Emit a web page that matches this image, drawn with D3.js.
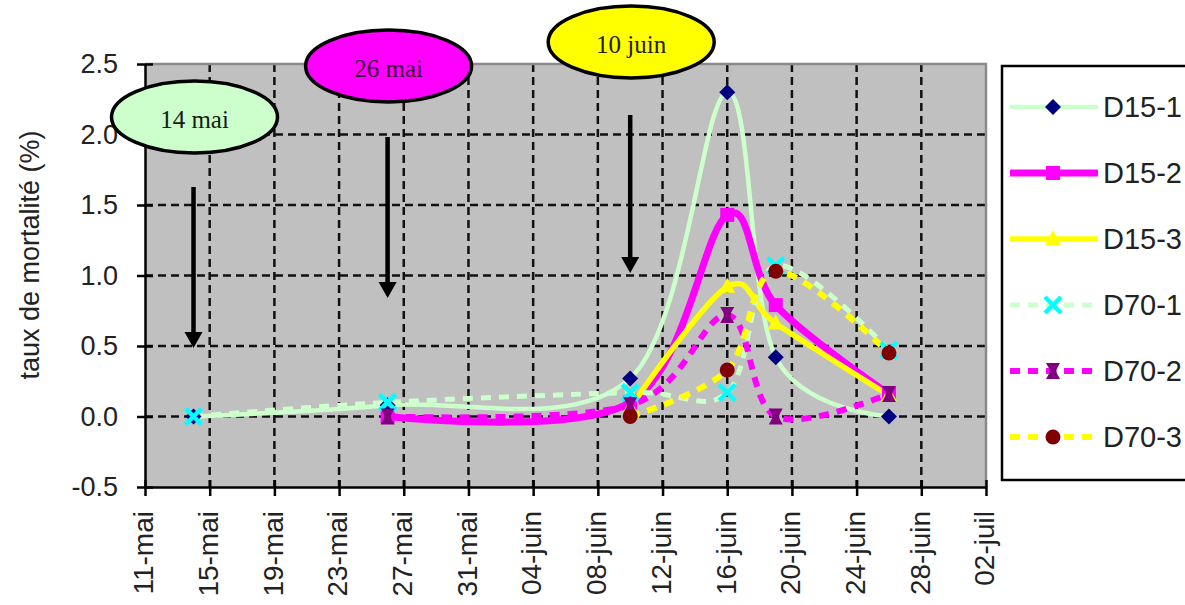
<!DOCTYPE html>
<html>
<head>
<meta charset="utf-8">
<script src="https://cdn.jsdelivr.net/npm/d3@7"></script>
<style>
  html, body { margin: 0; padding: 0; background: #fff; overflow: hidden; }
  svg { display: block; }
</style>
</head>
<body>
<svg id="chart" width="1185" height="605"></svg>
<script>
// Sampling dates (mortality counts) and mortality rates (%) per plot
const sampleDates = ["2005-05-14", "2005-05-26", "2005-06-10", "2005-06-16", "2005-06-19", "2005-06-26"];
const seriesNames = ["D15-1", "D15-2", "D15-3", "D70-1", "D70-2", "D70-3"];
const d15_1 = [0.00, 0.08, 0.27, 2.30, 0.42, 0.00];
const d15_2 = [null, 0.00, 0.10, 1.43, 0.79, 0.16];
const d15_3 = [null, null, 0.06, 0.92, 0.66, 0.15];
const d70_1 = [0.00, 0.10, 0.17, 0.17, 1.07, 0.47];
const d70_2 = [null, 0.00, 0.08, 0.72, 0.00, 0.16];
const d70_3 = [null, null, 0.00, 0.33, 1.03, 0.45];

// Axis ticks
const xTickLabels = ["11-mai", "15-mai", "19-mai", "23-mai", "27-mai", "31-mai", "04-juin",
                     "08-juin", "12-juin", "16-juin", "20-juin", "24-juin", "28-juin", "02-juil"];
const yTickValues = [-0.5, 0, 0.5, 1, 1.5, 2, 2.5];

// Treatment dates shown as callouts
const treatmentLabels = ["14 mai", "26 mai", "10 juin"];
const treatmentDates = ["2005-05-14", "2005-05-26", "2005-06-10"];

// ---------------------------------------------------------------------------
const parseDay = d3.timeParse("%Y-%m-%d");
const monthIndex = { mai: 4, juin: 5, juil: 6 };
const tickDates = xTickLabels.map(s => {
  const [d, m] = s.split("-");
  return new Date(2005, monthIndex[m], +d);
});

const seriesValues = [d15_1, d15_2, d15_3, d70_1, d70_2, d70_3];
const series = seriesNames.map((name, i) => ({
  name,
  points: sampleDates
    .map((d, j) => ({ date: parseDay(d), value: seriesValues[i][j] }))
    .filter(p => p.value !== null)
}));

const style = {
  "D15-1": { color: "#ccffcc", width: 4.5, dash: null,    marker: "diamond",  mcolor: "#000080" },
  "D15-2": { color: "#ff00ff", width: 7,   dash: null,    marker: "square",   mcolor: "#ff00ff" },
  "D15-3": { color: "#ffff00", width: 5.5, dash: null,    marker: "triangle", mcolor: "#ffff00" },
  "D70-1": { color: "#ccffcc", width: 5,   dash: "10,8",  marker: "x",        mcolor: "#00ffff" },
  "D70-2": { color: "#ff00ff", width: 6,   dash: "10,8",  marker: "star",     mcolor: "#800080" },
  "D70-3": { color: "#ffff00", width: 6,   dash: "10,8",  marker: "circle",   mcolor: "#800000" }
};

const plot = { left: 145, right: 986, top: 64, bottom: 487 };

const x = d3.scaleTime()
  .domain([tickDates[0], tickDates[tickDates.length - 1]])
  .range([plot.left, plot.right]);
const y = d3.scaleLinear()
  .domain([-0.5, 2.5])
  .range([plot.bottom, plot.top]);

const svg = d3.select("#chart");
const font = "'Liberation Sans', Arial, sans-serif";

// Plot background
svg.append("rect")
  .attr("x", plot.left).attr("y", plot.top)
  .attr("width", plot.right - plot.left).attr("height", plot.bottom - plot.top)
  .attr("fill", "#c0c0c0");

// Dashed grid
const grid = svg.append("g").attr("stroke", "#111").attr("stroke-width", 2.5)
  .attr("stroke-dasharray", "8,5");
grid.selectAll("line.h")
  .data(yTickValues.filter(v => v > -0.5 && v < 2.5))
  .join("line")
  .attr("x1", plot.left).attr("x2", plot.right)
  .attr("y1", d => y(d)).attr("y2", d => y(d));
grid.selectAll("line.v")
  .data(tickDates.slice(1, -1))
  .join("line")
  .attr("y1", plot.top).attr("y2", plot.bottom)
  .attr("x1", d => x(d)).attr("x2", d => x(d));

// Top / right frame
svg.append("path")
  .attr("d", `M${plot.left},${plot.top}H${plot.right}V${plot.bottom}`)
  .attr("fill", "none").attr("stroke", "#8a8a8a").attr("stroke-width", 2.5);

// Series (smoothed lines)
const line = d3.line()
  .x(d => x(d.date)).y(d => y(d.value))
  .curve(d3.curveCardinal.tension(0));

function drawMarker(g, type, color) {
  switch (type) {
    case "diamond":
      g.append("path").attr("d", "M0,-8L8,0L0,8L-8,0Z").attr("fill", color);
      break;
    case "square":
      g.append("rect").attr("x", -7).attr("y", -7).attr("width", 14).attr("height", 14).attr("fill", color);
      break;
    case "triangle":
      g.append("path").attr("d", "M0,-9L8,6L-8,6Z").attr("fill", color);
      break;
    case "x":
      g.append("path").attr("d", "M-8,-8L8,8M8,-8L-8,8")
        .attr("stroke", color).attr("stroke-width", 4.5).attr("fill", "none");
      break;
    case "star":
      g.append("path").attr("d", "M-7,-8L7,-8L2.5,0L7,8L-7,8L-2.5,0Z").attr("fill", color);
      g.append("rect").attr("x", -3.5).attr("y", -5).attr("width", 7).attr("height", 10).attr("fill", color);
      break;
    case "circle":
      g.append("circle").attr("r", 7.5).attr("fill", color);
      break;
  }
}

const seriesG = svg.append("g");
series.forEach(s => {
  const st = style[s.name];
  seriesG.append("path")
    .attr("d", line(s.points))
    .attr("fill", "none")
    .attr("stroke", st.color)
    .attr("stroke-width", st.width)
    .attr("stroke-dasharray", st.dash)
    .attr("stroke-linecap", "butt");
});
series.forEach(s => {
  const st = style[s.name];
  s.points.forEach(p => {
    const g = seriesG.append("g").attr("transform", `translate(${x(p.date)},${y(p.value)})`);
    drawMarker(g, st.marker, st.mcolor);
  });
});

// Y axis
const yAxis = svg.append("g")
  .attr("transform", `translate(${plot.left},0)`)
  .call(d3.axisLeft(y).tickValues(yTickValues).tickFormat(v => v.toFixed(1))
    .tickSize(8).tickSizeOuter(0).tickPadding(19));
yAxis.select(".domain").attr("stroke", "#000").attr("stroke-width", 2.5);
yAxis.selectAll(".tick line").attr("x1", 8).attr("stroke", "#000").attr("stroke-width", 2.5);
yAxis.selectAll(".tick text")
  .attr("font-family", font).attr("font-size", 27).attr("fill", "#222");

// X axis
const xAxis = svg.append("g")
  .attr("transform", `translate(0,${plot.bottom})`)
  .call(d3.axisBottom(x).tickValues(tickDates).tickFormat((d, i) => xTickLabels[i])
    .tickSize(9).tickSizeOuter(0));
xAxis.select(".domain").attr("stroke", "#000").attr("stroke-width", 2.5);
xAxis.selectAll(".tick line").attr("y1", -7).attr("stroke", "#000").attr("stroke-width", 2.5);
xAxis.selectAll(".tick text")
  .attr("font-family", font).attr("font-size", 28).attr("fill", "#222")
  .attr("transform", "rotate(-90)")
  .attr("text-anchor", "end")
  .attr("x", -24).attr("y", -2).attr("dy", "0.35em");

// Y axis title
svg.append("text")
  .attr("transform", "translate(30,255) rotate(-90)")
  .attr("text-anchor", "middle").attr("dy", "0.35em")
  .attr("font-family", font).attr("font-size", 27).attr("fill", "#222")
  .text("taux de mortalité (%)");

// Treatment callouts: ellipse label + downward arrow at the treatment date
const calloutFill = ["#ccffcc", "#ff00ff", "#ffff00"];
const calloutTextColor = ["#102010", "#3a003a", "#202000"];
const calloutLayout = [
  { cy: 117, top: 187, tip: 348 },
  { cy: 66,  top: 137, tip: 298 },
  { cy: 42,  top: 115, tip: 273 }
];
treatmentLabels.forEach((label, i) => {
  const cx = x(parseDay(treatmentDates[i]));
  const L = calloutLayout[i];
  svg.append("line")
    .attr("x1", cx).attr("x2", cx).attr("y1", L.top).attr("y2", L.tip - 12)
    .attr("stroke", "#000").attr("stroke-width", 4.5);
  svg.append("path")
    .attr("d", `M${cx - 9},${L.tip - 16}L${cx + 9},${L.tip - 16}L${cx},${L.tip}Z`)
    .attr("fill", "#000");
  svg.append("ellipse")
    .attr("cx", cx + 1).attr("cy", L.cy).attr("rx", 83).attr("ry", 36)
    .attr("fill", calloutFill[i]).attr("stroke", "#000").attr("stroke-width", 3.5);
  svg.append("text")
    .attr("x", cx + 1).attr("y", L.cy + 2)
    .attr("text-anchor", "middle").attr("dy", "0.35em")
    .attr("font-family", "'Liberation Serif', 'Times New Roman', serif")
    .attr("font-size", 25).attr("fill", calloutTextColor[i])
    .text(label);
});

// Legend
const legend = svg.append("g");
legend.append("rect")
  .attr("x", 1002).attr("y", 66).attr("width", 240).attr("height", 414)
  .attr("fill", "#fff").attr("stroke", "#000").attr("stroke-width", 2.5);
seriesNames.forEach((name, i) => {
  const st = style[name];
  const ly = 107 + i * 66;
  legend.append("line")
    .attr("x1", 1010).attr("x2", 1098).attr("y1", ly).attr("y2", ly)
    .attr("stroke", st.color).attr("stroke-width", st.width)
    .attr("stroke-dasharray", st.dash);
  const g = legend.append("g").attr("transform", `translate(1053,${ly})`);
  drawMarker(g, st.marker, st.mcolor);
  legend.append("text")
    .attr("x", 1103).attr("y", ly).attr("dy", "0.35em")
    .attr("font-family", font).attr("font-size", 29).attr("fill", "#222")
    .text(name);
});
</script>
</body>
</html>
